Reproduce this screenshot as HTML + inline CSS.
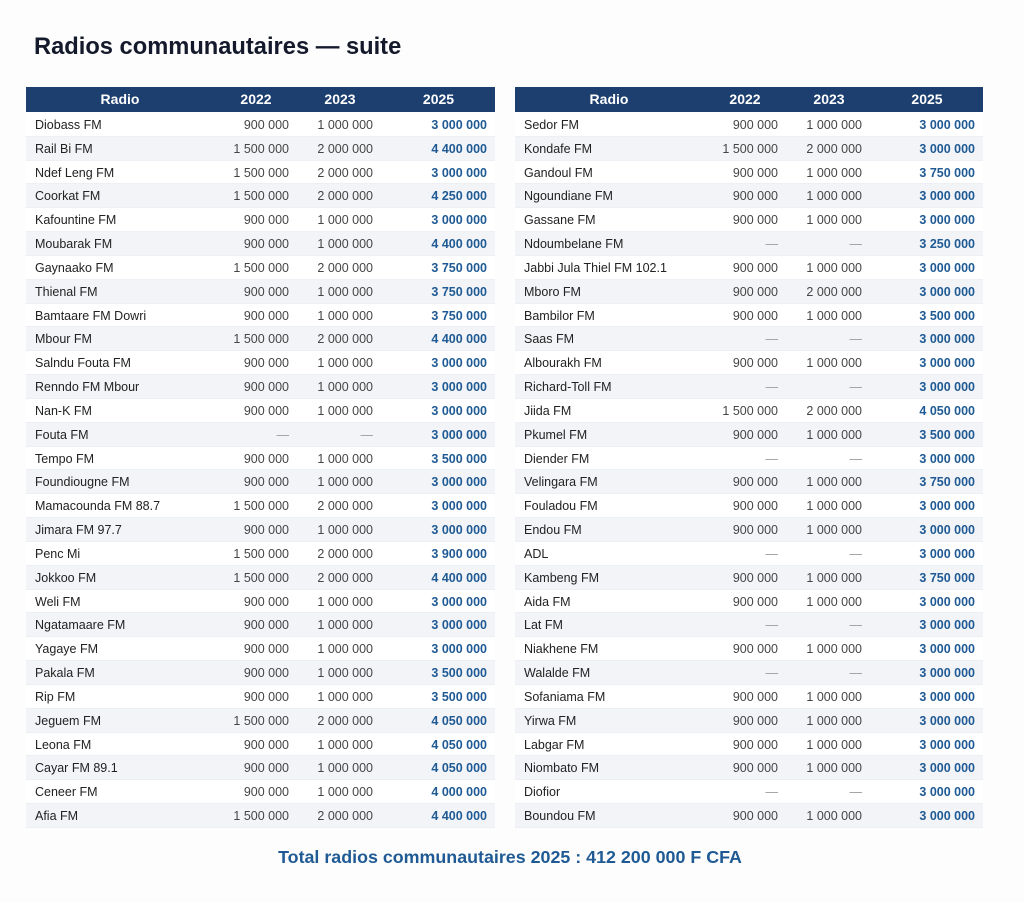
<!DOCTYPE html>
<html>
<head>
<meta charset="utf-8">
<style>
html,body{margin:0;padding:0;}
body{width:1024px;height:902px;background:#fdfdfd;position:relative;overflow:hidden;font-family:"Liberation Sans",Arial,sans-serif;}
.title{position:absolute;left:34px;top:32px;font-size:23.7px;font-weight:bold;color:#14192b;line-height:30px;white-space:nowrap;}
.tbl{position:absolute;top:87px;}
.hdr{height:25px;background:#1d3f6f;color:#fff;font-weight:bold;font-size:14px;display:flex;line-height:25px;}
.hdr div{text-align:center;}
.body{margin-top:1px;}
.row{height:23.83px;display:flex;line-height:24px;font-size:12.5px;box-sizing:border-box;border-bottom:1px solid #eceff3;background:#fff;}
.row:nth-child(even){background:#f2f4f7;}
.c1{width:188px;padding-left:9px;box-sizing:border-box;color:#222;white-space:nowrap;}
.c2,.c3{width:84px;padding-right:9px;box-sizing:border-box;text-align:right;color:#454545;white-space:nowrap;}
.c4{flex:1;padding-right:8px;box-sizing:border-box;text-align:right;color:#1f5a94;font-weight:bold;white-space:nowrap;}
.hdr .c1,.hdr .c2,.hdr .c3,.hdr .c4{padding:0;text-align:center;color:#fff;}
.d{color:#9a9a9a;}
.total{position:absolute;left:0;width:1020px;top:846px;text-align:center;font-size:17.85px;font-weight:bold;color:#1f5a94;line-height:22px;}
</style>
</head>
<body>
<div class="title">Radios communautaires — suite</div>

<div class="tbl" style="left:26px;width:469px;">
<div class="hdr"><div class="c1">Radio</div><div class="c2">2022</div><div class="c3">2023</div><div class="c4">2025</div></div>
<div class="body">
<div class="row"><div class="c1">Diobass FM</div><div class="c2">900 000</div><div class="c3">1 000 000</div><div class="c4">3 000 000</div></div>
<div class="row"><div class="c1">Rail Bi FM</div><div class="c2">1 500 000</div><div class="c3">2 000 000</div><div class="c4">4 400 000</div></div>
<div class="row"><div class="c1">Ndef Leng FM</div><div class="c2">1 500 000</div><div class="c3">2 000 000</div><div class="c4">3 000 000</div></div>
<div class="row"><div class="c1">Coorkat FM</div><div class="c2">1 500 000</div><div class="c3">2 000 000</div><div class="c4">4 250 000</div></div>
<div class="row"><div class="c1">Kafountine FM</div><div class="c2">900 000</div><div class="c3">1 000 000</div><div class="c4">3 000 000</div></div>
<div class="row"><div class="c1">Moubarak FM</div><div class="c2">900 000</div><div class="c3">1 000 000</div><div class="c4">4 400 000</div></div>
<div class="row"><div class="c1">Gaynaako FM</div><div class="c2">1 500 000</div><div class="c3">2 000 000</div><div class="c4">3 750 000</div></div>
<div class="row"><div class="c1">Thienal FM</div><div class="c2">900 000</div><div class="c3">1 000 000</div><div class="c4">3 750 000</div></div>
<div class="row"><div class="c1">Bamtaare FM Dowri</div><div class="c2">900 000</div><div class="c3">1 000 000</div><div class="c4">3 750 000</div></div>
<div class="row"><div class="c1">Mbour FM</div><div class="c2">1 500 000</div><div class="c3">2 000 000</div><div class="c4">4 400 000</div></div>
<div class="row"><div class="c1">Salndu Fouta FM</div><div class="c2">900 000</div><div class="c3">1 000 000</div><div class="c4">3 000 000</div></div>
<div class="row"><div class="c1">Renndo FM Mbour</div><div class="c2">900 000</div><div class="c3">1 000 000</div><div class="c4">3 000 000</div></div>
<div class="row"><div class="c1">Nan-K FM</div><div class="c2">900 000</div><div class="c3">1 000 000</div><div class="c4">3 000 000</div></div>
<div class="row"><div class="c1">Fouta FM</div><div class="c2 d">—</div><div class="c3 d">—</div><div class="c4">3 000 000</div></div>
<div class="row"><div class="c1">Tempo FM</div><div class="c2">900 000</div><div class="c3">1 000 000</div><div class="c4">3 500 000</div></div>
<div class="row"><div class="c1">Foundiougne FM</div><div class="c2">900 000</div><div class="c3">1 000 000</div><div class="c4">3 000 000</div></div>
<div class="row"><div class="c1">Mamacounda FM 88.7</div><div class="c2">1 500 000</div><div class="c3">2 000 000</div><div class="c4">3 000 000</div></div>
<div class="row"><div class="c1">Jimara FM 97.7</div><div class="c2">900 000</div><div class="c3">1 000 000</div><div class="c4">3 000 000</div></div>
<div class="row"><div class="c1">Penc Mi</div><div class="c2">1 500 000</div><div class="c3">2 000 000</div><div class="c4">3 900 000</div></div>
<div class="row"><div class="c1">Jokkoo FM</div><div class="c2">1 500 000</div><div class="c3">2 000 000</div><div class="c4">4 400 000</div></div>
<div class="row"><div class="c1">Weli FM</div><div class="c2">900 000</div><div class="c3">1 000 000</div><div class="c4">3 000 000</div></div>
<div class="row"><div class="c1">Ngatamaare FM</div><div class="c2">900 000</div><div class="c3">1 000 000</div><div class="c4">3 000 000</div></div>
<div class="row"><div class="c1">Yagaye FM</div><div class="c2">900 000</div><div class="c3">1 000 000</div><div class="c4">3 000 000</div></div>
<div class="row"><div class="c1">Pakala FM</div><div class="c2">900 000</div><div class="c3">1 000 000</div><div class="c4">3 500 000</div></div>
<div class="row"><div class="c1">Rip FM</div><div class="c2">900 000</div><div class="c3">1 000 000</div><div class="c4">3 500 000</div></div>
<div class="row"><div class="c1">Jeguem FM</div><div class="c2">1 500 000</div><div class="c3">2 000 000</div><div class="c4">4 050 000</div></div>
<div class="row"><div class="c1">Leona FM</div><div class="c2">900 000</div><div class="c3">1 000 000</div><div class="c4">4 050 000</div></div>
<div class="row"><div class="c1">Cayar FM 89.1</div><div class="c2">900 000</div><div class="c3">1 000 000</div><div class="c4">4 050 000</div></div>
<div class="row"><div class="c1">Ceneer FM</div><div class="c2">900 000</div><div class="c3">1 000 000</div><div class="c4">4 000 000</div></div>
<div class="row"><div class="c1">Afia FM</div><div class="c2">1 500 000</div><div class="c3">2 000 000</div><div class="c4">4 400 000</div></div>
</div>
</div>

<div class="tbl" style="left:515px;width:468px;">
<div class="hdr"><div class="c1">Radio</div><div class="c2">2022</div><div class="c3">2023</div><div class="c4">2025</div></div>
<div class="body">
<div class="row"><div class="c1">Sedor FM</div><div class="c2">900 000</div><div class="c3">1 000 000</div><div class="c4">3 000 000</div></div>
<div class="row"><div class="c1">Kondafe FM</div><div class="c2">1 500 000</div><div class="c3">2 000 000</div><div class="c4">3 000 000</div></div>
<div class="row"><div class="c1">Gandoul FM</div><div class="c2">900 000</div><div class="c3">1 000 000</div><div class="c4">3 750 000</div></div>
<div class="row"><div class="c1">Ngoundiane FM</div><div class="c2">900 000</div><div class="c3">1 000 000</div><div class="c4">3 000 000</div></div>
<div class="row"><div class="c1">Gassane FM</div><div class="c2">900 000</div><div class="c3">1 000 000</div><div class="c4">3 000 000</div></div>
<div class="row"><div class="c1">Ndoumbelane FM</div><div class="c2 d">—</div><div class="c3 d">—</div><div class="c4">3 250 000</div></div>
<div class="row"><div class="c1">Jabbi Jula Thiel FM 102.1</div><div class="c2">900 000</div><div class="c3">1 000 000</div><div class="c4">3 000 000</div></div>
<div class="row"><div class="c1">Mboro FM</div><div class="c2">900 000</div><div class="c3">2 000 000</div><div class="c4">3 000 000</div></div>
<div class="row"><div class="c1">Bambilor FM</div><div class="c2">900 000</div><div class="c3">1 000 000</div><div class="c4">3 500 000</div></div>
<div class="row"><div class="c1">Saas FM</div><div class="c2 d">—</div><div class="c3 d">—</div><div class="c4">3 000 000</div></div>
<div class="row"><div class="c1">Albourakh FM</div><div class="c2">900 000</div><div class="c3">1 000 000</div><div class="c4">3 000 000</div></div>
<div class="row"><div class="c1">Richard-Toll FM</div><div class="c2 d">—</div><div class="c3 d">—</div><div class="c4">3 000 000</div></div>
<div class="row"><div class="c1">Jiida FM</div><div class="c2">1 500 000</div><div class="c3">2 000 000</div><div class="c4">4 050 000</div></div>
<div class="row"><div class="c1">Pkumel FM</div><div class="c2">900 000</div><div class="c3">1 000 000</div><div class="c4">3 500 000</div></div>
<div class="row"><div class="c1">Diender FM</div><div class="c2 d">—</div><div class="c3 d">—</div><div class="c4">3 000 000</div></div>
<div class="row"><div class="c1">Velingara FM</div><div class="c2">900 000</div><div class="c3">1 000 000</div><div class="c4">3 750 000</div></div>
<div class="row"><div class="c1">Fouladou FM</div><div class="c2">900 000</div><div class="c3">1 000 000</div><div class="c4">3 000 000</div></div>
<div class="row"><div class="c1">Endou FM</div><div class="c2">900 000</div><div class="c3">1 000 000</div><div class="c4">3 000 000</div></div>
<div class="row"><div class="c1">ADL</div><div class="c2 d">—</div><div class="c3 d">—</div><div class="c4">3 000 000</div></div>
<div class="row"><div class="c1">Kambeng FM</div><div class="c2">900 000</div><div class="c3">1 000 000</div><div class="c4">3 750 000</div></div>
<div class="row"><div class="c1">Aida FM</div><div class="c2">900 000</div><div class="c3">1 000 000</div><div class="c4">3 000 000</div></div>
<div class="row"><div class="c1">Lat FM</div><div class="c2 d">—</div><div class="c3 d">—</div><div class="c4">3 000 000</div></div>
<div class="row"><div class="c1">Niakhene FM</div><div class="c2">900 000</div><div class="c3">1 000 000</div><div class="c4">3 000 000</div></div>
<div class="row"><div class="c1">Walalde FM</div><div class="c2 d">—</div><div class="c3 d">—</div><div class="c4">3 000 000</div></div>
<div class="row"><div class="c1">Sofaniama FM</div><div class="c2">900 000</div><div class="c3">1 000 000</div><div class="c4">3 000 000</div></div>
<div class="row"><div class="c1">Yirwa FM</div><div class="c2">900 000</div><div class="c3">1 000 000</div><div class="c4">3 000 000</div></div>
<div class="row"><div class="c1">Labgar FM</div><div class="c2">900 000</div><div class="c3">1 000 000</div><div class="c4">3 000 000</div></div>
<div class="row"><div class="c1">Niombato FM</div><div class="c2">900 000</div><div class="c3">1 000 000</div><div class="c4">3 000 000</div></div>
<div class="row"><div class="c1">Diofior</div><div class="c2 d">—</div><div class="c3 d">—</div><div class="c4">3 000 000</div></div>
<div class="row"><div class="c1">Boundou FM</div><div class="c2">900 000</div><div class="c3">1 000 000</div><div class="c4">3 000 000</div></div>
</div>
</div>

<div class="total">Total radios communautaires 2025 : 412 200 000 F CFA</div>
</body>
</html>
